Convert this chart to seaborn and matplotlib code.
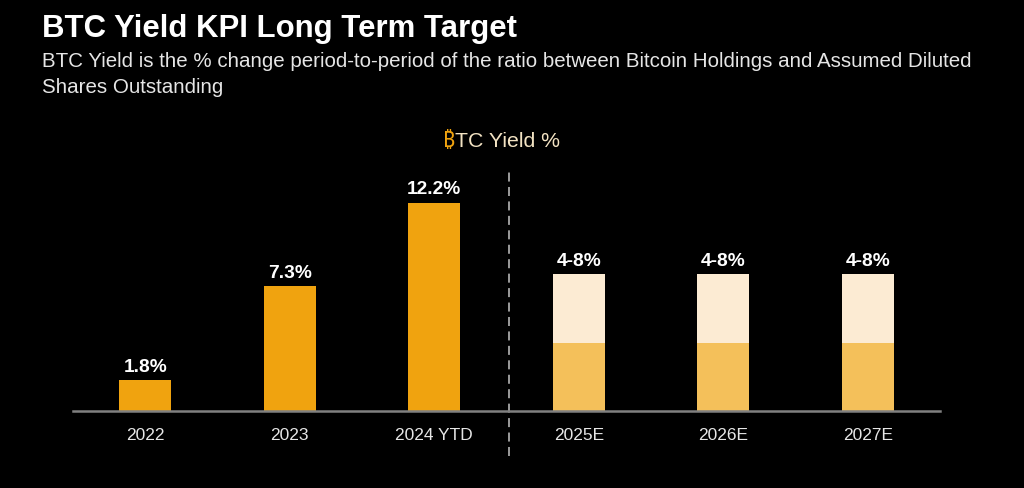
import matplotlib
matplotlib.use("Agg")
import matplotlib.pyplot as plt
import seaborn as sns
import pandas as pd

categories = ["2022", "2023", "2024 YTD", "2025E", "2026E", "2027E"]
actual_cats = ["2022", "2023", "2024 YTD"]
actual_vals = [1.8, 7.3, 12.2]
actual_labels = ["1.8%", "7.3%", "12.2%"]
target_cats = ["2025E", "2026E", "2027E"]
target_low = [4, 4, 4]
target_high = [8, 8, 8]
target_labels = ["4-8%", "4-8%", "4-8%"]

title = "BTC Yield KPI Long Term Target"
subtitle1 = "BTC Yield is the % change period-to-period of the ratio between Bitcoin Holdings and Assumed Diluted"
subtitle2 = "Shares Outstanding"
legend_sym = "\u20bf"
legend_txt = "TC Yield %"

ORANGE = "#F0A30F"
GOLD = "#F4C05A"
CREAM = "#FCEBD3"
BG = "#000000"

sns.set_theme(style="white")
plt.rcParams["font.family"] = ["Liberation Sans", "DejaVu Sans", "Noto Sans"]

fig = plt.figure(figsize=(10.24, 4.88), dpi=100, facecolor=BG)
ax = fig.add_axes([0.0713, 0.158, 0.8467, 0.49])
ax.set_facecolor(BG)

df_a = pd.DataFrame({"cat": actual_cats, "val": actual_vals})
df_t = pd.DataFrame({"cat": target_cats, "low": target_low, "high": target_high})

sns.barplot(data=df_a, x="cat", y="val", order=categories, color=ORANGE,
            width=0.36, saturation=1, ax=ax, linewidth=0)
sns.barplot(data=df_t, x="cat", y="high", order=categories, color=CREAM,
            width=0.36, saturation=1, ax=ax, linewidth=0)
sns.barplot(data=df_t, x="cat", y="low", order=categories, color=GOLD,
            width=0.36, saturation=1, ax=ax, linewidth=0)

ax.set_xlim(-0.5, 5.5)
ax.set_ylim(0, 14)
ax.set_xlabel("")
ax.set_ylabel("")
ax.set_yticks([])
for s in ["top", "right", "left"]:
    ax.spines[s].set_visible(False)
ax.spines["bottom"].set_color("#808080")
ax.spines["bottom"].set_linewidth(1.8)
ax.tick_params(axis="x", length=0, pad=12, labelsize=12.5, colors="#E6E6E6")

for c, v, l in zip(actual_cats, actual_vals, actual_labels):
    i = categories.index(c)
    ax.annotate(l, (i, v), xytext=(0, 3), textcoords="offset points",
                ha="center", va="bottom", color="white", fontsize=13.8, fontweight="bold")
for c, v, l in zip(target_cats, target_high, target_labels):
    i = categories.index(c)
    ax.annotate(l, (i, v), xytext=(0, 3), textcoords="offset points",
                ha="center", va="bottom", color="white", fontsize=13.8, fontweight="bold")

ax.axvline(2.52, ymin=-0.19, ymax=1.01, clip_on=False, color="#A8A8A8",
           linewidth=1.3, linestyle=(0, (5, 3)))

fig.text(0.041, 1 - 37 / 488, title, color="white", fontsize=22.4,
         fontweight="bold", va="baseline", ha="left")
fig.text(0.041, 1 - 67 / 488, subtitle1, color="#E6E6E6", fontsize=14.8,
         va="baseline", ha="left")
fig.text(0.041, 1 - 93 / 488, subtitle2, color="#E6E6E6", fontsize=14.8,
         va="baseline", ha="left")

lx = 455 / 1024
ly = 1 - 147 / 488
fig.text(lx, ly, legend_sym, color=ORANGE, fontsize=15.3, va="baseline", ha="right",
         family=["DejaVu Sans", "Noto Sans"])
fig.text(lx, ly, legend_txt, color="#F3E3C3", fontsize=15.3, va="baseline", ha="left")

fig.savefig("out.png", dpi=100, facecolor=BG)
